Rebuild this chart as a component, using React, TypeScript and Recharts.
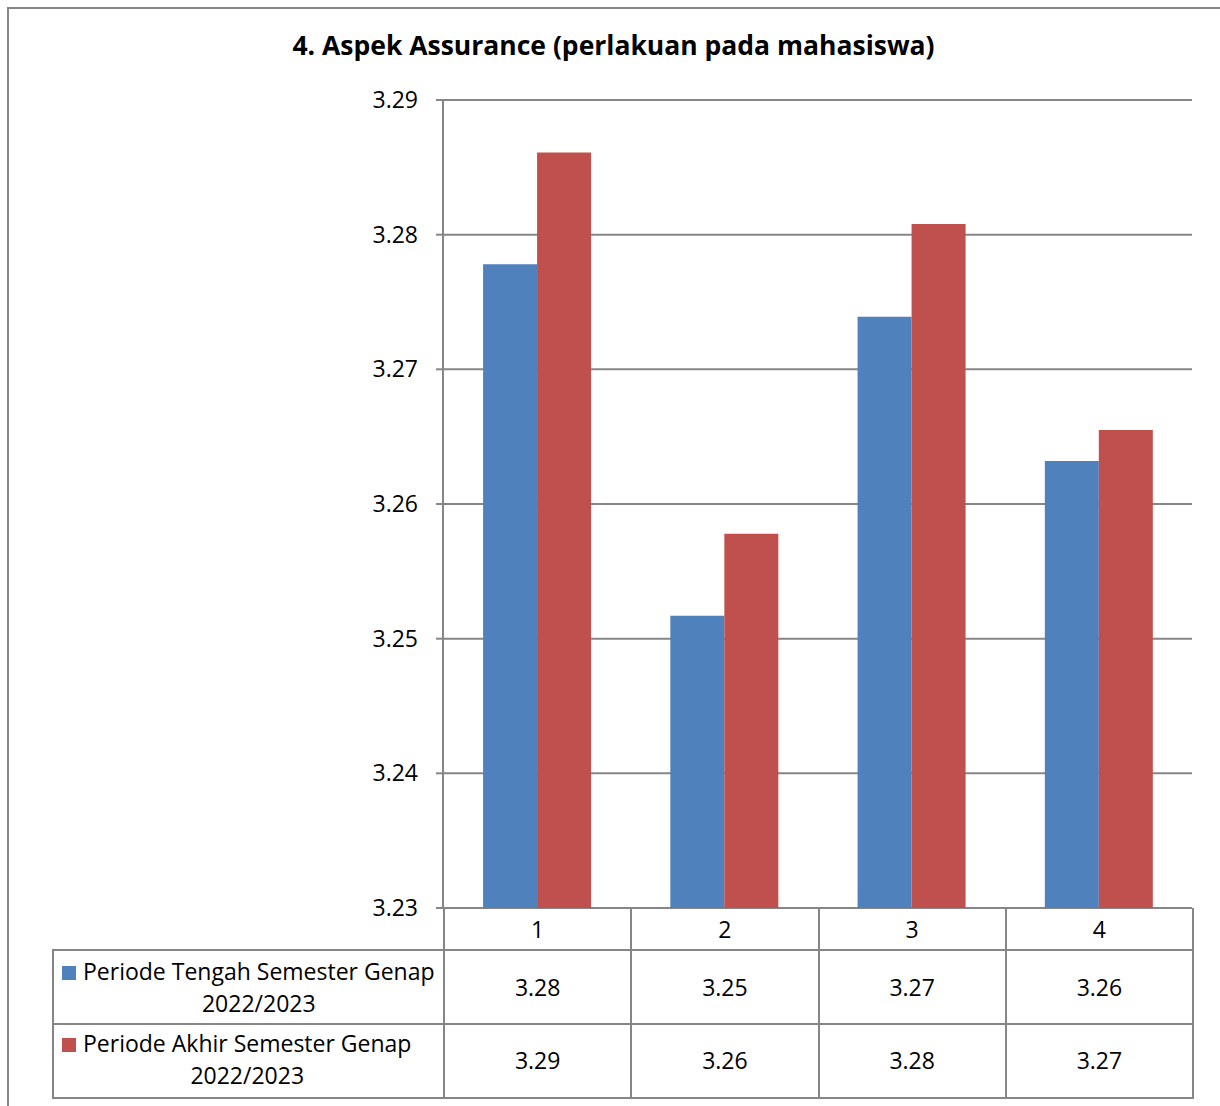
import React from 'react';
import { BarChart, Bar, XAxis, YAxis, CartesianGrid } from 'recharts';

const categories = ['1', '2', '3', '4'];
const tengahValues = [3.2778, 3.2517, 3.2739, 3.2632];
const akhirValues = [3.2861, 3.2578, 3.2808, 3.2655];
const yTicks = [3.23, 3.24, 3.25, 3.26, 3.27, 3.28, 3.29];

const seriesNames = ['Periode Tengah Semester Genap', 'Periode Akhir Semester Genap'];
const seriesYear = '2022/2023';
const title = '4. Aspek Assurance (perlakuan pada mahasiswa)';

const BLUE = '#4F81BD';
const RED = '#C0504D';
const LINE = '#868686';
const FONT = '"Open Sans", sans-serif';
const FS = 23;

const chartData = categories.map((c, i) => ({
  name: c,
  tengah: tengahValues[i],
  akhir: akhirValues[i],
}));

// plot area: x 443..1192, y 100..908
const PLOT_LEFT = 443;
const PLOT_RIGHT = 1192;
const PLOT_TOP = 100;
const PLOT_BOTTOM = 908;
const COL_W = (PLOT_RIGHT - PLOT_LEFT) / categories.length;

function DataTable() {
  const rows = [
    { name: seriesNames[0], color: BLUE, values: tengahValues, top: 949, h: 74 },
    { name: seriesNames[1], color: RED, values: akhirValues, top: 1023, h: 74 },
  ];
  const cell: React.CSSProperties = {
    position: 'absolute',
    boxSizing: 'border-box',
    display: 'flex',
    alignItems: 'center',
    justifyContent: 'center',
    fontFamily: FONT,
    fontSize: FS,
    color: '#000',
  };
  return (
    <>
      {categories.map((c, i) => (
        <div
          key={'h' + c}
          style={{
            ...cell,
            left: PLOT_LEFT + i * COL_W,
            top: PLOT_BOTTOM,
            width: COL_W + 2,
            height: 43,
            border: `2px solid ${LINE}`,
            borderTop: 'none',
          }}
        >
          {c}
        </div>
      ))}
      {rows.map((r, ri) => (
        <React.Fragment key={r.name}>
          <div
            style={{
              ...cell,
              left: 52,
              top: r.top,
              width: PLOT_LEFT - 52 + 2,
              height: r.h + 2,
              border: `2px solid ${LINE}`,
              borderTop: ri === 0 ? `2px solid ${LINE}` : 'none',
              justifyContent: 'flex-start',
              alignItems: 'flex-start',
              paddingLeft: 8,
              paddingTop: 4,
              lineHeight: '32px',
            }}
          >
            <span
              style={{
                display: 'inline-block',
                width: 14,
                height: 14,
                background: r.color,
                marginRight: 7,
                marginTop: 11,
                flex: 'none',
              }}
            />
            <div style={{ textAlign: 'center', whiteSpace: 'nowrap' }}>
              <div>{r.name}</div>
              <div>{seriesYear}</div>
            </div>
          </div>
          {r.values.map((v, i) => (
            <div
              key={r.name + i}
              style={{
                ...cell,
                left: PLOT_LEFT + i * COL_W,
                top: r.top,
                width: COL_W + 2,
                height: r.h + 2,
                border: `2px solid ${LINE}`,
                borderTop: ri === 0 ? `2px solid ${LINE}` : 'none',
              }}
            >
              {v.toFixed(2)}
            </div>
          ))}
        </React.Fragment>
      ))}
    </>
  );
}

export default function App() {
  return (
    <div
      style={{
        position: 'absolute',
        left: 0,
        top: 0,
        width: 1220,
        height: 1106,
        background: '#fff',
        overflow: 'hidden',
      }}
    >
      <div
        style={{
          position: 'absolute',
          left: 7,
          top: 7,
          width: 1230,
          height: 1120,
          border: `2px solid ${LINE}`,
          boxSizing: 'border-box',
        }}
      />
      <div
        style={{
          position: 'absolute',
          left: 0,
          top: 27,
          width: 1227,
          textAlign: 'center',
          fontFamily: FONT,
          fontWeight: 700,
          fontSize: 26.5,
          color: '#000',
        }}
      >
        {title}
      </div>
      <div style={{ position: 'absolute', left: 0, top: 0 }}>
        <BarChart
          width={1220}
          height={1106}
          data={chartData}
          margin={{ top: PLOT_TOP, right: 1220 - PLOT_RIGHT, bottom: 1106 - PLOT_BOTTOM, left: PLOT_LEFT - 90 }}
          barCategoryGap="21.4%"
          barGap={0}
        >
          <CartesianGrid horizontal vertical={false} stroke={LINE} strokeWidth={2} />
          <XAxis dataKey="name" tick={false} tickLine={false} axisLine={{ stroke: LINE, strokeWidth: 2 }} height={0} />
          <YAxis
            width={90}
            domain={[3.23, 3.29]}
            ticks={yTicks}
            tickFormatter={(v: number) => v.toFixed(2)}
            tick={{ fill: '#000', fontSize: FS, fontFamily: FONT }}
            tickSize={7}
            tickMargin={18}
            tickLine={{ stroke: LINE, strokeWidth: 2 }}
            axisLine={{ stroke: LINE, strokeWidth: 2 }}
            interval={0}
            allowDataOverflow
          />
          <Bar dataKey="tengah" fill={BLUE} isAnimationActive={false} />
          <Bar dataKey="akhir" fill={RED} isAnimationActive={false} />
        </BarChart>
      </div>
      <DataTable />
    </div>
  );
}
